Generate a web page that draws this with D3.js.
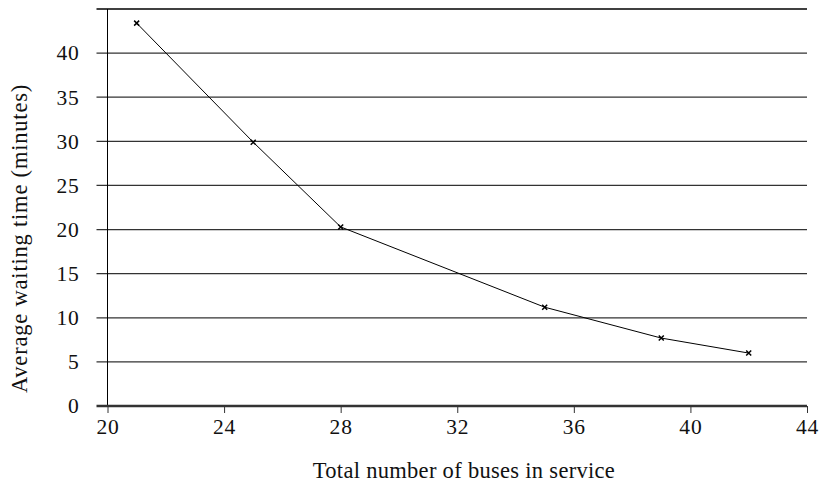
<!DOCTYPE html>
<html lang="en">
<head>
  <meta charset="UTF-8">
  <title>Waiting time vs buses</title>
  <script src="https://d3js.org/d3.v7.min.js"></script>
  <style>
  body{ margin:0; background:#fff; }
  </style>
</head>
<body>
  <div class="container"></div>
  <script>
  var buses = [21, 25, 28, 35, 39, 42];
  var waiting = [43.4, 29.9, 20.3, 11.2, 7.7, 6.0];
  var xTicks = [20, 24, 28, 32, 36, 40, 44];
  var yTicks = [0, 5, 10, 15, 20, 25, 30, 35, 40];

  var FONT = "'Liberation Serif', 'DejaVu Serif', serif";
  var FS = '21.5px';
  var w = 819, h = 484,
      margin = {top: 9, right: 12, bottom: 78, left: 107.5};
  var g_w = w - margin.left - margin.right;
  var g_h = h - margin.top - margin.bottom;

  var xScale = d3.scaleLinear().domain([20, 44]).range([0, g_w]);
  var yScale = d3.scaleLinear().domain([0, 45]).range([g_h, 0]);

  var svg = d3.select('.container').append('svg')
      .attr('width', w).attr('height', h)
      .attr('font-family', FONT);
  var g = svg.append('g')
      .attr('transform', 'translate(' + margin.left + ',' + margin.top + ')');

  // horizontal grid lines (they also serve as y ticks)
  g.selectAll('.grid').data(yTicks.filter(function(d){ return d > 0; }))
    .enter().append('line')
    .attr('x1', -11).attr('x2', g_w)
    .attr('y1', function(d){ return yScale(d); })
    .attr('y2', function(d){ return yScale(d); })
    .style('stroke', '#333').style('stroke-width', 1.3);
  // top border
  g.append('line').attr('x1', -11).attr('x2', g_w)
    .attr('y1', yScale(45)).attr('y2', yScale(45))
    .style('stroke', '#000').style('stroke-width', 1.3);

  // y labels
  g.selectAll('.ylab').data(yTicks).enter().append('text')
    .attr('x', -28).attr('y', function(d){ return yScale(d); })
    .attr('dy', '0.34em').attr('text-anchor', 'end')
    .style('font-family', FONT).style('fill', '#111')
    .style('letter-spacing', '0.8px')
    .style('font-size', FS).text(function(d){ return d; });

  // y axis line
  g.append('line').attr('x1', 0).attr('x2', 0)
    .attr('y1', yScale(45)).attr('y2', g_h)
    .style('stroke', '#000').style('stroke-width', 1);

  // x axis
  var xAxis = d3.axisBottom(xScale).tickValues(xTicks).tickSize(7).tickPadding(6).tickSizeOuter(0);
  var xg = g.append('g').attr('transform', 'translate(0,' + g_h + ')').call(xAxis)
    .attr('font-family', FONT);
  xg.select('.domain').style('stroke', '#333').style('stroke-width', 2.5)
    .attr('d', 'M-11,0H' + g_w);
  xg.selectAll('.tick line').style('stroke', '#333').style('stroke-width', 1);
  xg.selectAll('.tick text').style('font-size', FS)
    .style('letter-spacing', '0.8px')
    .style('font-family', FONT).style('fill', '#111');

  // line
  var data = buses.map(function(b, i){ return [b, waiting[i]]; });
  var line = d3.line()
    .x(function(d){ return xScale(d[0]); })
    .y(function(d){ return yScale(d[1]); });
  g.append('path').attr('d', line(data))
    .style('fill', 'none').style('stroke', '#000').style('stroke-width', 1);

  // x markers
  var s = 2.5;
  g.selectAll('.mk').data(data).enter().append('path')
    .attr('transform', function(d){ return 'translate(' + xScale(d[0]) + ',' + yScale(d[1]) + ')'; })
    .attr('d', 'M' + (-s) + ',' + (-s) + 'L' + s + ',' + s + 'M' + (-s) + ',' + s + 'L' + s + ',' + (-s))
    .style('stroke', '#000').style('stroke-width', 1.5).style('fill', 'none');

  // axis titles
  svg.append('text').attr('x', 464).attr('y', 478)
    .attr('text-anchor', 'middle').style('font-size', '22.5px')
    .style('letter-spacing', '0.3px')
    .style('font-family', FONT).style('fill', '#111')
    .text('Total number of buses in service');
  svg.append('text')
    .attr('transform', 'translate(27,238.5) rotate(-90)')
    .attr('text-anchor', 'middle').style('font-size', '22.5px')
    .style('letter-spacing', '0.8px')
    .style('font-family', FONT).style('fill', '#111')
    .text('Average waiting time (minutes)');
  </script>
</body>
</html>
